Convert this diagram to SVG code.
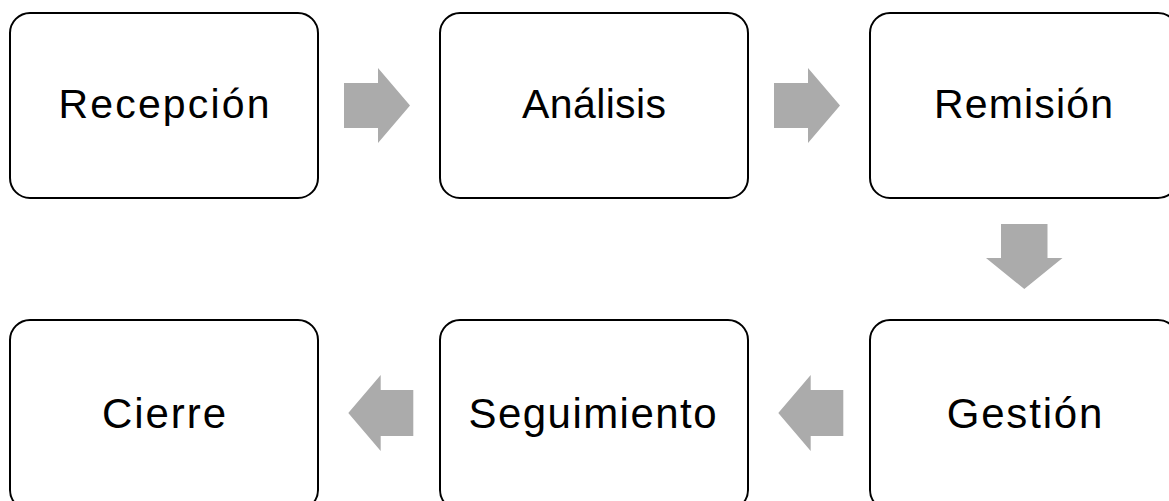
<svg xmlns="http://www.w3.org/2000/svg" width="1169" height="501" viewBox="0 0 1169 501">
<style>
.box{fill:#ffffff;stroke:#000000;stroke-width:2}
.lbl{font-family:"Liberation Sans",Arial,Helvetica,sans-serif;font-size:41px;fill:#000000;text-anchor:middle}
.lbl2{font-size:42px}
.arr{fill:#ABABAB;stroke:none}
</style>
<rect width="1169" height="501" fill="#ffffff"/>
<g id="connectors">
<polygon class="arr" points="344,83 378,83 378,68 410,105.5 378,143 378,128 344,128"/>
<polygon class="arr" points="774,83 808,83 808,68 840,105.5 808,143 808,128 774,128"/>
<polygon class="arr" points="1001,224 1047.5,224 1047.5,258 1062.5,258 1024.3,289 986,258 1001,258"/>
<polygon class="arr" points="843.3,390 810.7,390 810.7,375 778.3,413 810.7,451 810.7,436 843.3,436"/>
<polygon class="arr" points="413.3,390 380.7,390 380.7,375 348.3,413 380.7,451 380.7,436 413.3,436"/>
</g>
<g id="n1">
<rect class="box" x="10" y="13" width="308" height="185" rx="20" ry="20"/>
<text class="lbl" x="164" y="118" textLength="211" lengthAdjust="spacing">Recepción</text>
</g>
<g id="n2">
<rect class="box" x="440" y="13" width="308" height="185" rx="20" ry="20"/>
<text class="lbl" x="594" y="118" textLength="144" lengthAdjust="spacing">Análisis</text>
</g>
<g id="n3">
<rect class="box" x="870" y="13" width="308" height="185" rx="20" ry="20"/>
<text class="lbl" x="1023.5" y="118" textLength="179" lengthAdjust="spacing">Remisión</text>
</g>
<g id="n4">
<rect class="box" x="870" y="320" width="308" height="190" rx="20" ry="20"/>
<text class="lbl lbl2" x="1024.5" y="428" textLength="155.6" lengthAdjust="spacing">Gestión</text>
</g>
<g id="n5">
<rect class="box" x="440" y="320" width="308" height="190" rx="20" ry="20"/>
<text class="lbl lbl2" x="592.5" y="428" textLength="248" lengthAdjust="spacing">Seguimiento</text>
</g>
<g id="n6">
<rect class="box" x="10" y="320" width="308" height="190" rx="20" ry="20"/>
<text class="lbl lbl2" x="164" y="428" textLength="124" lengthAdjust="spacing">Cierre</text>
</g>
</svg>
